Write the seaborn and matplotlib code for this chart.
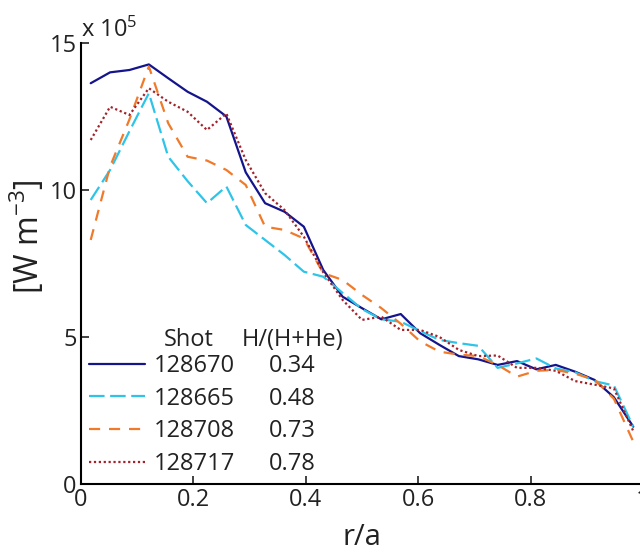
import numpy as np
import pandas as pd
import matplotlib
matplotlib.use("Agg")
import matplotlib.pyplot as plt
import seaborn as sns

# ---- data (units of 1e5 W m^-3) ----
r_over_a = [(k + 0.5) / 29 for k in range(29)]
shots = ["128670", "128665", "128708", "128717"]
ratios = ["0.34", "0.48", "0.73", "0.78"]

p_128670 = [13.63, 14.0, 14.08, 14.27, 13.8, 13.34, 13.0, 12.5, 10.6, 9.55,
            9.26, 8.75, 7.28, 6.37, 5.98, 5.6, 5.78, 5.13, 4.73, 4.35,
            4.24, 4.05, 4.18, 3.9, 4.05, 3.82, 3.54, 2.95, 1.95]
p_128665 = [9.66, 10.68, 12.0, 13.29, 11.13, 10.3, 9.55, 10.12, 8.81, 8.3,
            7.79, 7.22, 7.05, 6.5, 5.95, 5.6, 5.52, 5.2, 4.9, 4.79,
            4.7, 3.95, 4.1, 4.27, 3.93, 3.8, 3.5, 3.35, 1.95]
p_128708 = [8.3, 10.8, 12.4, 14.2, 12.27, 11.13, 11.0, 10.68, 10.17, 8.75,
            8.64, 8.35, 7.17, 6.94, 6.43, 5.98, 5.45, 4.85, 4.5, 4.4,
            4.35, 4.05, 3.65, 3.85, 3.88, 3.75, 3.55, 2.9, 1.44]
p_128717 = [11.7, 12.83, 12.55, 13.46, 13.0, 12.66, 12.04, 12.6, 11.02, 9.89,
            9.32, 8.41, 7.2, 6.26, 5.58, 5.69, 5.24, 5.24, 5.0, 4.56,
            4.35, 4.37, 3.95, 3.95, 3.85, 3.5, 3.38, 3.25, 1.8]

series = [p_128670, p_128665, p_128708, p_128717]
df = pd.concat([pd.DataFrame({"r": r_over_a, "P": vals, "shot": s})
                for s, vals in zip(shots, series)], ignore_index=True)

colors = {"128670": "#14148c", "128665": "#2ec4e8",
          "128708": "#f07a2a", "128717": "#a3222a"}
dashes = {"128670": "", "128665": (7, 2.5), "128708": (5, 4),
          "128717": (1, 1.2)}

sns.set_style("ticks")
plt.rcParams["font.family"] = ["Open Sans", "DejaVu Sans"]
plt.rcParams["mathtext.fontset"] = "custom"
plt.rcParams["mathtext.rm"] = "Open Sans"
plt.rcParams["mathtext.it"] = "Open Sans"

fig = plt.figure(figsize=(6.4, 5.52), dpi=100)
ax = fig.add_axes([0.1266, 0.1232, 0.878, 0.799])

sns.lineplot(data=df, x="r", y="P", hue="shot", style="shot",
             palette=colors, dashes=dashes, hue_order=shots,
             style_order=shots, linewidth=1.6, legend=False, ax=ax,
             sort=False)

ax.set_xlim(0, 1)
ax.set_ylim(0, 15)
ax.set_xticks([0, 0.2, 0.4, 0.6, 0.8, 1.0])
ax.set_xticklabels(["0", "0.2", "0.4", "0.6", "0.8", "1"])
ax.set_yticks([0, 5, 10, 15])
ax.set_yticklabels(["0", "5", "10", "15"])
ax.tick_params(direction="in", length=6, width=1.2, labelsize=17,
               colors="#222222", pad=3)
for side in ["top", "right"]:
    ax.spines[side].set_visible(False)
for side in ["left", "bottom"]:
    ax.spines[side].set_linewidth(1.5)
    ax.spines[side].set_color("black")

ax.set_xlabel("r/a", fontsize=21, color="#222222", labelpad=8)
ax.set_ylabel("[W m$^{-3}$]", fontsize=23, color="#222222")
ax.yaxis.set_label_coords(-0.06, 0.56)
ax.text(0.0, 1.0, "x 10$^{5}$", transform=ax.transAxes, fontsize=17,
        ha="left", va="bottom", color="#222222")

handles = ax.lines[:4]
leg = ax.legend(handles, shots, loc="lower left",
                bbox_to_anchor=(0.0, 0.0), frameon=False, fontsize=17,
                handlelength=2.4, handletextpad=0.35, labelspacing=0.37,
                borderaxespad=0.13, borderpad=0.2)
for t in leg.get_texts():
    t.set_color("#222222")

fig.canvas.draw()
inv = ax.transAxes.inverted()
ys = []
x_label_left = None
for t, ratio in zip(leg.get_texts(), ratios):
    bb = t.get_window_extent()
    (x0, y0), (x1, y1) = inv.transform([[bb.x0, bb.y0], [bb.x1, bb.y1]])
    ys.append((y0 + y1) / 2)
    x_label_left = x0
    ax.text(x1 + 0.06, (y0 + y1) / 2, ratio, transform=ax.transAxes,
            fontsize=17, ha="left", va="center", color="#222222")
step = ys[0] - ys[1]
ax.text(x_label_left + 0.018, ys[0] + step * 0.8, "Shot", transform=ax.transAxes,
        fontsize=17, ha="left", va="center", color="#222222")
ax.text(x_label_left + 0.157, ys[0] + step * 0.8, "H/(H+He)", transform=ax.transAxes,
        fontsize=17, ha="left", va="center", color="#222222")

fig.savefig("out.png", dpi=100)
